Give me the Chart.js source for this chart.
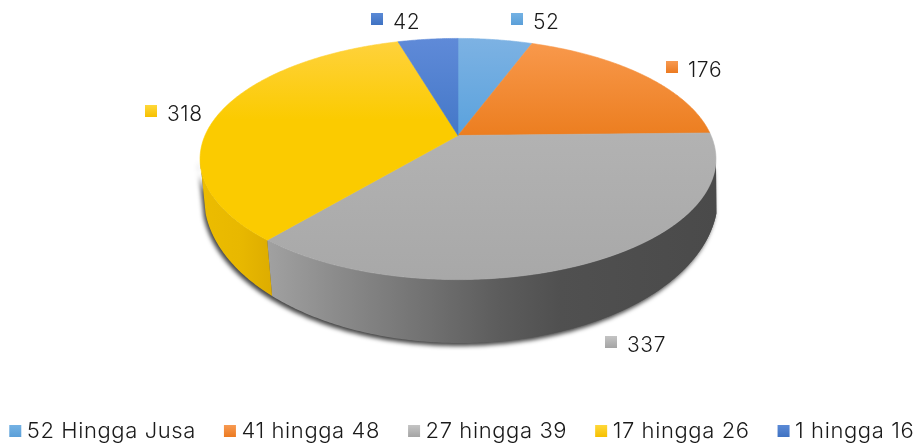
<!DOCTYPE html>
<html><head><meta charset="utf-8">
<style>html,body{margin:0;padding:0;background:#fff}canvas{display:block}</style>
<script src="https://cdn.jsdelivr.net/npm/chart.js@4"></script>
</head><body>
<canvas id="c" width="917" height="443"></canvas>
<script>
const categories = ["52 Hingga Jusa","41 hingga 48","27 hingga 39","17 hingga 26","1 hingga 16"];
const values = [52,176,337,318,42];
const topStops = [["#7db2e3","#5aa2dd"],["#f99a4e","#ec7e20"],["#b9b9b9","#a8a8a8"],["#ffd23f","#fbcb00"],["#5f8ad8","#4478c8"]];
const markerStops = [["#74b2e4","#5b9fd8"],["#f79a52","#ec7a20"],["#c4c4c4","#a4a4a4"],["#ffd83a","#f6c000"],["#5b8ad6","#3f72c2"]];
const labelAnchors = [[511,22],[666,70],[605,345],[145,114],[371,22]];
const fontFamily = "Inter, 'Open Sans', sans-serif";
const tracking = "0.6px";

// perspective view of the pie's top face and the lower rim
const V = {cx:458, cy:135.5, rx:253, ry:116, k:0.195, bx:461, by:197, brx:257, bry:146};
function proj(th){
  const u=Math.sin(th), v=-Math.cos(th), w=1-V.k*v;
  return [V.cx+V.rx*u/w, V.cy+V.ry*v/w];
}
function lower(th){
  const p=proj(th), x=V.bx+(p[0]-V.cx)*0.99, t=(x-V.bx)/V.brx;
  return [x, V.by+V.bry*Math.sqrt(Math.max(0,1-t*t))];
}
function sampled(a,b){const n=Math.max(2,Math.ceil((b-a)/0.01));const o=[];for(let i=0;i<=n;i++)o.push(a+(b-a)*i/n);return o;}
const sideA=Math.acos(-V.k), sideB=2*Math.PI-Math.acos(-V.k);

function sidePath(ctx,a,b){
  ctx.beginPath();
  sampled(a,b).forEach((t,i)=>{const p=proj(t);i?ctx.lineTo(p[0],p[1]):ctx.moveTo(p[0],p[1]);});
  sampled(a,b).reverse().forEach(t=>{const p=lower(t);ctx.lineTo(p[0],p[1]);});
  ctx.closePath();
}
const sideFill={
  2:[[270,"#a0a0a0"],[340,"#8a8a8a"],[420,"#737373"],[500,"#5c5c5c"],[560,"#505050"],[717,"#4a4a4a"]],
  3:[[203,"#ecbc00"],[240,"#e8b800"],[276,"#dcab00"]]
};
const piePlugin={
  id:"pie3d",
  beforeLayout(chart){chart.ctx.letterSpacing=tracking;},
  beforeDraw(chart){chart.ctx.letterSpacing=tracking;},
  beforeDatasetDraw(chart){
    const ctx=chart.ctx, arcs=chart.getDatasetMeta(0).data;
    const ang=arcs.map(a=>[a.startAngle+Math.PI/2,a.endAngle+Math.PI/2]);
    ctx.save();
    ctx.save();
    ctx.shadowColor="rgba(70,70,70,1)";ctx.shadowBlur=4;ctx.shadowOffsetX=-2;ctx.shadowOffsetY=3;
    ctx.fillStyle="#5a5a5a";sidePath(ctx,sideA,sideB);ctx.fill();
    ctx.restore();
    ang.forEach((r,i)=>{
      const a=Math.max(r[0],sideA), b=Math.min(r[1],sideB);
      if(b<=a||!sideFill[i])return;
      const x0=sideFill[i][0][0],x1=sideFill[i][sideFill[i].length-1][0];
      const g=ctx.createLinearGradient(x0,0,x1,0);
      sideFill[i].forEach(s=>g.addColorStop((s[0]-x0)/(x1-x0),s[1]));
      ctx.fillStyle=g;sidePath(ctx,a,b);ctx.fill();
    });
    ang.forEach((r,i)=>{
      const g=ctx.createLinearGradient(0,38,0,i===2?279:(i===3?120:135));
      g.addColorStop(0,topStops[i][0]);g.addColorStop(1,topStops[i][1]);
      ctx.beginPath();ctx.moveTo(V.cx,V.cy);
      sampled(r[0],r[1]).forEach(t=>{const p=proj(t);ctx.lineTo(p[0],p[1]);});
      ctx.closePath();ctx.fillStyle=g;ctx.strokeStyle=g;ctx.lineWidth=0.6;ctx.fill();ctx.stroke();
    });
    ctx.restore();
    return false;
  },
  afterDraw(chart){
    const ctx=chart.ctx, data=chart.data.datasets[0].data;
    ctx.save();
    ctx.font="300 21px "+fontFamily;ctx.fillStyle="#1a1a1a";ctx.textBaseline="middle";ctx.textAlign="left";
    function box(x,y,i){
      const g=ctx.createLinearGradient(0,y,0,y+12);
      g.addColorStop(0,markerStops[i][0]);g.addColorStop(1,markerStops[i][1]);
      ctx.fillStyle=g;ctx.fillRect(x,y,12,12);ctx.fillStyle="#1a1a1a";
    }
    labelAnchors.forEach((a,i)=>{box(a[0],a[1]-9,i);ctx.fillText(String(data[i]),a[0]+22,a[1]+1);});
    chart.legend.legendHitBoxes.forEach((h,i)=>box(h.left+0.5,h.top+h.height/2-6,i));
    ctx.restore();
  }
};
new Chart(document.getElementById("c"),{
  type:"pie",
  data:{labels:categories,datasets:[{data:values,backgroundColor:topStops.map(s=>s[1]),borderWidth:0}]},
  options:{
    responsive:false,animation:false,
    layout:{padding:{bottom:-9,left:-57,right:-63}},
    plugins:{
      tooltip:{enabled:false},
      legend:{display:true,position:"bottom",
        labels:{boxWidth:7,boxHeight:12,padding:27.5,color:"#1a1a1a",font:{family:fontFamily,size:22,weight:"300"},
          generateLabels(chart){return chart.data.labels.map((t,i)=>({text:t,fillStyle:"rgba(0,0,0,0)",strokeStyle:"rgba(0,0,0,0)",lineWidth:0,hidden:false,index:i,fontColor:"#1a1a1a"}));}
        }}
    }
  },
  plugins:[piePlugin]
});
</script>
</body></html>
